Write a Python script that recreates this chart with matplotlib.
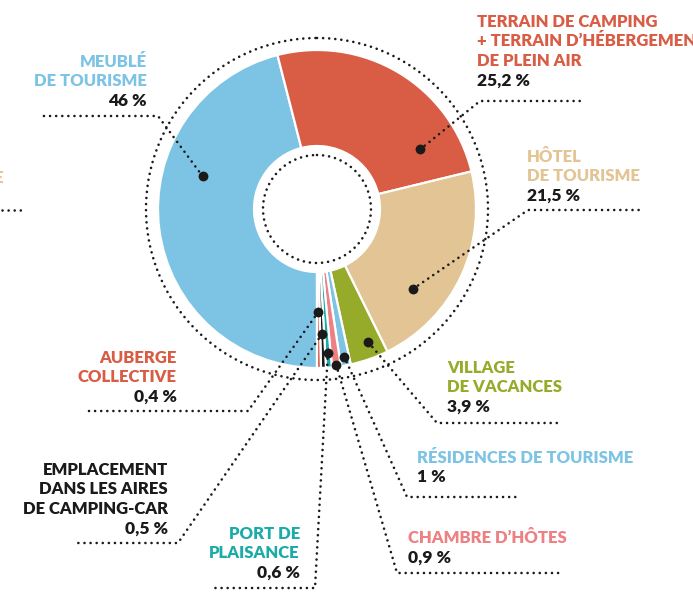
import numpy as np
import matplotlib
matplotlib.use('Agg')
import matplotlib.pyplot as plt
from matplotlib.patches import Circle

# parts of the accommodation offer (%)
categories = ['MEUBLÉ\nDE TOURISME',
              'TERRAIN DE CAMPING\n+ TERRAIN D’HÉBERGEMENT\nDE PLEIN AIR',
              'HÔTEL\nDE TOURISME',
              'VILLAGE\nDE VACANCES',
              'RÉSIDENCES DE TOURISME',
              'CHAMBRE D’HÔTES',
              'PORT DE\nPLAISANCE',
              'EMPLACEMENT\nDANS LES AIRES\nDE CAMPING-CAR',
              'AUBERGE\nCOLLECTIVE']
values = [46, 25.2, 21.5, 3.9, 1, 0.9, 0.6, 0.5, 0.4]
pct_labels = ['46 %', '25,2 %', '21,5 %', '3,9 %', '1 %', '0,9 %', '0,6 %', '0,5 %', '0,4 %']

blue = '#7DC4E4'
red = '#D95C45'
tan = '#E3C494'
green = '#97AB2A'
pink = '#EE8083'
teal = '#1BABA8'
black = '#1a1a1a'
colors = [blue, red, tan, green, blue, pink, teal, black, red]

W, H = 693, 596
cx, cy = 317, 209
r_out, r_in = 159, 63

fig = plt.figure(figsize=(W / 100, H / 100), dpi=100)
ax = fig.add_axes([0, 0, 1, 1])

# y axis inverted -> image coordinates; startangle 90 = bottom of the picture
wedges, _ = ax.pie(values, colors=colors, startangle=90, counterclock=True,
                   radius=r_out, center=(cx, cy),
                   wedgeprops=dict(width=r_out - r_in, edgecolor='white', linewidth=1.6))
ax.set_xlim(0, W)
ax.set_ylim(H, 0)
ax.set_aspect('equal')
ax.set_axis_off()

dot_style = dict(color=black, linewidth=1.9, linestyle=(0, (0.01, 2.3)),
                 dash_capstyle='round', solid_capstyle='round')

for rad in [171, 54]:
    c = Circle((cx, cy), rad, fill=False, edgecolor=black, linewidth=1.9,
               linestyle=(0, (0.01, 2.3)))
    c.set_capstyle('round')
    ax.add_patch(c)

# where the marker sits inside each wedge (fraction of the arc, radius)
dot_frac = [0.64, 0.82, 0.69, 0.37, 0.5, 0.5, 0.5, 0.5, 0.5]
dot_rad = [119, 119, 125, 143, 150, 157, 144, 125, 103]
elbows = [(158, 116), (480, 101), (528, 210), (437, 423), (407, 497),
          (397, 573), (315, 588), (178, 543), (248, 411)]
line_ends = [38, 585, 640, 560, 518, 560, 210, 78, 85]

# label blocks: x, first baseline, alignment
label_x = [147, 477, 527, 447, 417, 408, 300, 168, 177]
label_y = [66.7, 26.7, 161.7, 373, 463, 543, 539, 475, 362.7]
label_ha = ['right', 'left', 'left', 'left', 'left', 'left', 'right', 'right', 'right']
step = 19.5

font = dict(family=['Lato', 'DejaVu Sans'], weight='heavy', fontsize=12)

for i, w in enumerate(wedges):
    ang = np.deg2rad(w.theta1 + dot_frac[i] * (w.theta2 - w.theta1))
    dx = cx + dot_rad[i] * np.cos(ang)
    dy = cy + dot_rad[i] * np.sin(ang)
    ex, ey = elbows[i]
    ax.plot([dx, ex, line_ends[i]], [dy, ey, ey], **dot_style)
    ax.scatter([dx], [dy], s=50, color=black, zorder=5, linewidths=0)

    lines = categories[i].split('\n')
    for j, txt in enumerate(lines):
        ax.text(label_x[i], label_y[i] + j * step, txt, color=colors[i],
                ha=label_ha[i], va='baseline', **font)
    ax.text(label_x[i], label_y[i] + len(lines) * step, pct_labels[i], color=black,
            ha=label_ha[i], va='baseline', family=['Lato', 'DejaVu Sans'],
            weight='heavy', fontsize=12.5)

# leftover from the neighbouring chart at the left edge
ax.text(3, 183, 'E', color=tan, ha='right', va='baseline', **font)
ax.plot([2, 22], [210, 210], **dot_style)

fig.savefig('out.png', dpi=100)
